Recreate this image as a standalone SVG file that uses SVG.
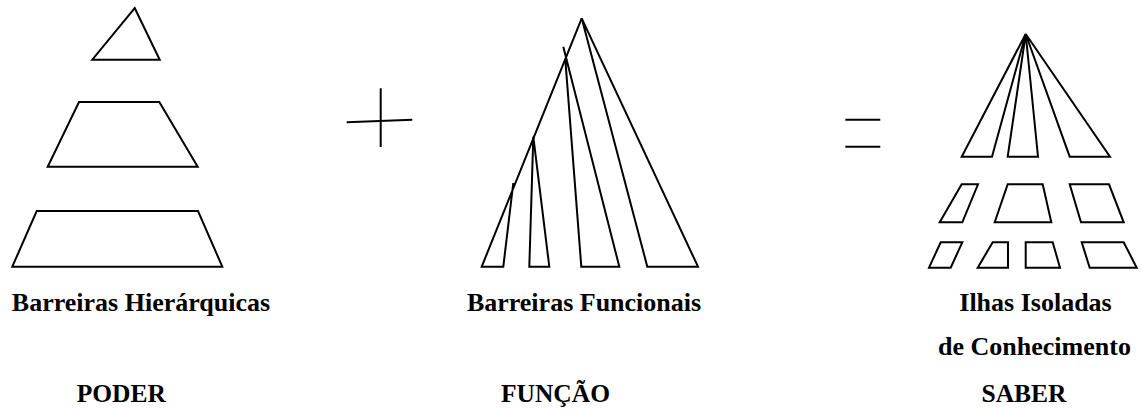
<svg xmlns="http://www.w3.org/2000/svg" width="1142" height="410" viewBox="0 0 1142 410">
<style>
.s{fill:none;stroke:#000;stroke-width:2;stroke-linejoin:miter}
.t{font-family:"Liberation Serif","Times New Roman",serif;font-weight:bold;font-size:26px;fill:#000;text-anchor:middle}
.u{font-size:25.5px}
</style>
<rect width="1142" height="410" fill="#fff"/>
<g id="poder">
<polygon class="s" points="134.7,8 159.7,59.7 92.3,59.7"/>
<polygon class="s" points="79,102 159.3,102 197.7,166.7 47.7,166.7"/>
<polygon class="s" points="36.7,211 198,211 222.3,266.7 12.3,266.7"/>
</g>
<g id="plus">
<line class="s" x1="380.7" y1="88.3" x2="380.7" y2="147"/>
<line class="s" x1="346.7" y1="122.3" x2="412.3" y2="119.7"/>
</g>
<g id="funcao">
<polyline class="s" points="581.7,18.3 481.7,266.7 503.3,266.7 513.3,183"/>
<polygon class="s" points="533.3,136.7 529.3,266.7 549.3,266.7"/>
<polyline class="s" points="565.3,59.3 581.3,266.7 619.3,266.7 563.3,46.7"/>
<polygon class="s" points="581.7,18.3 647.3,266.7 698,266.7"/>
</g>
<g id="equals">
<line class="s" x1="845.3" y1="119.7" x2="880.3" y2="119.7"/>
<line class="s" x1="845.3" y1="146.7" x2="880.3" y2="146.7"/>
</g>
<g id="saber">
<polygon class="s" points="1025.7,34 961.7,156.7 992,156.7"/>
<polygon class="s" points="1025.7,34 1007.7,156.7 1038,156.7"/>
<polygon class="s" points="1025.7,34 1069.7,156.7 1110,156.7"/>
<polygon class="s" points="961.7,184.3 978,184.3 962.3,222.3 939.7,222.3"/>
<polygon class="s" points="1007.7,184.3 1042.7,184.3 1051.3,222.3 994.7,222.3"/>
<polygon class="s" points="1069.7,184.3 1109,184.3 1123.7,222.3 1081,222.3"/>
<polygon class="s" points="940.7,242.3 962.3,242.3 950.7,267.7 929,267.7"/>
<polygon class="s" points="992.7,242.3 1008,242.3 1008,267.7 977.7,267.7"/>
<polygon class="s" points="1025.7,242.3 1052.7,242.3 1060,267.7 1025.7,267.7"/>
<polygon class="s" points="1081.7,242.3 1123.7,242.3 1136.7,267.7 1089.7,267.7"/>
</g>
<g id="labels">
<text class="t" x="141" y="311">Barreiras Hierárquicas</text>
<text class="t" x="584" y="311">Barreiras Funcionais</text>
<text class="t" x="1035.5" y="311">Ilhas Isoladas</text>
<text class="t" x="1034.5" y="354.5">de Conhecimento</text>
<text class="t u" x="121.3" y="402">PODER</text>
<text class="t u" x="555.5" y="402">FUNÇÃO</text>
<text class="t u" x="1024" y="402">SABER</text>
</g>
</svg>
